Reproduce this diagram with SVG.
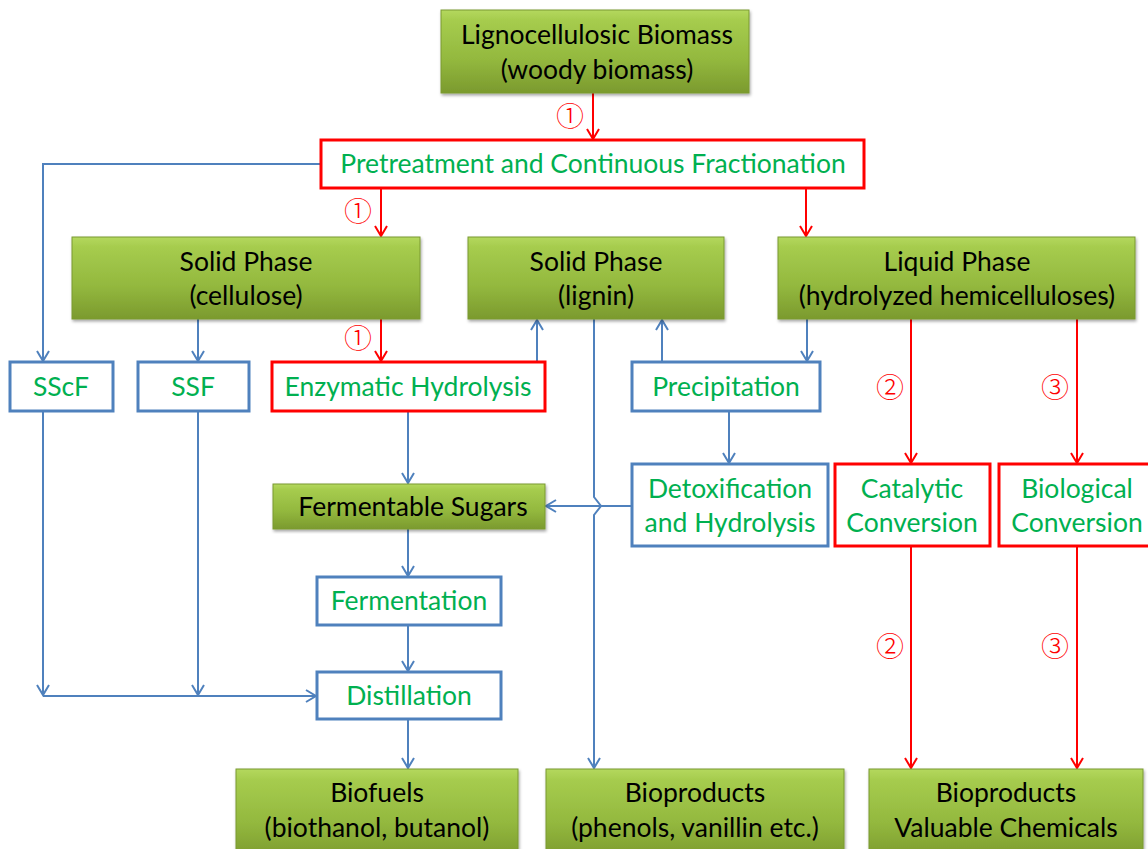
<svg xmlns="http://www.w3.org/2000/svg" width="1148" height="849" viewBox="0 0 1148 849">
<defs>
<linearGradient id="gg" x1="0" y1="0" x2="0" y2="1">
<stop offset="0" stop-color="#b4d85e"/>
<stop offset="0.12" stop-color="#a6cc4e"/>
<stop offset="0.6" stop-color="#93b83e"/>
<stop offset="1" stop-color="#7b9a2e"/>
</linearGradient>
<filter id="sh" x="-5%" y="-5%" width="110%" height="115%">
<feDropShadow dx="1" dy="2" stdDeviation="1.5" flood-color="#000" flood-opacity="0.35"/>
</filter>
<marker id="ab" markerWidth="16" markerHeight="16" refX="14" refY="8" viewBox="0 0 16 16" orient="auto-start-reverse" markerUnits="userSpaceOnUse">
<path d="M4,2 L14,8 L4,14" fill="none" stroke="#4f81bd" stroke-width="2"/>
</marker>
<marker id="ar" markerWidth="16" markerHeight="16" refX="14" refY="8" viewBox="0 0 16 16" orient="auto-start-reverse" markerUnits="userSpaceOnUse">
<path d="M4,2 L14,8 L4,14" fill="none" stroke="#ff0000" stroke-width="2"/>
</marker>
</defs>
<style>
.g{fill:url(#gg);stroke:#7a9a30;stroke-width:1;filter:url(#sh)}
.bb{fill:#fff;stroke:#4f81bd;stroke-width:3}
.rb{fill:#fff;stroke:#ff0000;stroke-width:3}
.tk{font-family:Lato,"Liberation Sans",sans-serif;font-size:26.5px;fill:#000;text-anchor:middle}
.tg{font-family:Lato,"Liberation Sans",sans-serif;font-size:26.5px;fill:#00b050;text-anchor:middle}
.bl{fill:none;stroke:#4f81bd;stroke-width:2}
.rl{fill:none;stroke:#ff0000;stroke-width:2}
.num{font-family:"Noto Sans CJK SC","DejaVu Sans",sans-serif;font-size:28px;font-weight:300;fill:#ff0000;text-anchor:middle}
</style>
<rect width="1148" height="849" fill="#fff"/>

<g id="connectors">
<path class="rl" d="M593,93 V139" marker-end="url(#ar)"/>
<path class="bl" d="M321,164 H43 V361" marker-end="url(#ab)"/>
<path class="rl" d="M381,188 V236" marker-end="url(#ar)"/>
<path class="rl" d="M806,188 V236" marker-end="url(#ar)"/>
<path class="bl" d="M198,319 V361" marker-end="url(#ab)"/>
<path class="rl" d="M381,319 V361" marker-end="url(#ar)"/>
<path class="bl" d="M537,362 V320" marker-end="url(#ab)"/>
<path class="bl" d="M662,362 V320" marker-end="url(#ab)"/>
<path class="bl" d="M807,319 V361" marker-end="url(#ab)"/>
<path class="bl" d="M729,411 V463" marker-end="url(#ab)"/>
<path class="bl" d="M594,319 V497 L601,506 L594,515 V768" marker-end="url(#ab)"/>
<path class="bl" d="M632,506 H546" marker-end="url(#ab)"/>
<path class="bl" d="M408,411 V483" marker-end="url(#ab)"/>
<path class="bl" d="M408,529 V576" marker-end="url(#ab)"/>
<path class="bl" d="M408,625 V671" marker-end="url(#ab)"/>
<path class="bl" d="M43,411 V695" marker-end="url(#ab)"/>
<path class="bl" d="M198,411 V695" marker-end="url(#ab)"/>
<path class="bl" d="M43,696 H316" marker-end="url(#ab)"/>
<path class="bl" d="M408,719 V768" marker-end="url(#ab)"/>
<path class="rl" d="M911,319 V463" marker-end="url(#ar)"/>
<path class="rl" d="M1077,319 V463" marker-end="url(#ar)"/>
<path class="rl" d="M911,547 V768" marker-end="url(#ar)"/>
<path class="rl" d="M1077,547 V768" marker-end="url(#ar)"/>
<text class="num" x="570" y="127">①</text>
<text class="num" x="358" y="222">①</text>
<text class="num" x="358" y="349">①</text>
<text class="num" x="890" y="398">②</text>
<text class="num" x="1055" y="398">③</text>
<text class="num" x="890" y="657">②</text>
<text class="num" x="1055" y="657">③</text>
</g>

<g id="biomass">
<rect class="g" x="441" y="10" width="308" height="83"/>
<text class="tk" x="597" y="44">Lignocellulosic Biomass</text>
<text class="tk" x="597" y="79">(woody biomass)</text>
</g>
<g id="pretreatment">
<rect class="rb" x="321" y="140" width="543" height="48"/>
<text class="tg" x="593" y="173">Pretreatment and Continuous Fractionation</text>
</g>
<g id="cellulose">
<rect class="g" x="72" y="237" width="348" height="82"/>
<text class="tk" x="246" y="271">Solid Phase</text>
<text class="tk" x="246" y="305">(cellulose)</text>
</g>
<g id="lignin">
<rect class="g" x="468" y="237" width="256" height="82"/>
<text class="tk" x="596" y="271">Solid Phase</text>
<text class="tk" x="596" y="305">(lignin)</text>
</g>
<g id="liquid">
<rect class="g" x="778" y="237" width="357" height="82"/>
<text class="tk" x="957" y="271">Liquid Phase</text>
<text class="tk" x="957" y="305">(hydrolyzed hemicelluloses)</text>
</g>
<g id="sscf">
<rect class="bb" x="10" y="362" width="103" height="49"/>
<text class="tg" x="61" y="396">SScF</text>
</g>
<g id="ssf">
<rect class="bb" x="138" y="362" width="111" height="49"/>
<text class="tg" x="193" y="396">SSF</text>
</g>
<g id="enzymatic">
<rect class="rb" x="272" y="362" width="273" height="49"/>
<text class="tg" x="408" y="396">Enzymatic Hydrolysis</text>
</g>
<g id="precipitation">
<rect class="bb" x="632" y="362" width="188" height="49"/>
<text class="tg" x="726" y="396">Precipitation</text>
</g>
<g id="sugars">
<rect class="g" x="273" y="484" width="272" height="45"/>
<text class="tk" x="413" y="516">Fermentable Sugars</text>
</g>
<g id="detox">
<rect class="bb" x="632" y="464" width="196" height="82"/>
<text class="tg" x="730" y="498">Detoxification</text>
<text class="tg" x="730" y="532">and Hydrolysis</text>
</g>
<g id="catalytic">
<rect class="rb" x="835" y="464" width="155" height="82"/>
<text class="tg" x="912" y="498">Catalytic</text>
<text class="tg" x="912" y="532">Conversion</text>
</g>
<g id="biological">
<rect class="rb" x="999" y="464" width="160" height="82"/>
<text class="tg" x="1077" y="498">Biological</text>
<text class="tg" x="1077" y="532">Conversion</text>
</g>
<g id="fermentation">
<rect class="bb" x="317" y="577" width="184" height="48"/>
<text class="tg" x="409" y="610">Fermentation</text>
</g>
<g id="distillation">
<rect class="bb" x="317" y="672" width="184" height="47"/>
<text class="tg" x="409" y="705">Distillation</text>
</g>
<g id="biofuels">
<rect class="g" x="236" y="769" width="282" height="90"/>
<text class="tk" x="377" y="802">Biofuels</text>
<text class="tk" x="377" y="837">(biothanol, butanol)</text>
</g>
<g id="bioproducts1">
<rect class="g" x="546" y="769" width="298" height="90"/>
<text class="tk" x="695" y="802">Bioproducts</text>
<text class="tk" x="695" y="837">(phenols, vanillin etc.)</text>
</g>
<g id="bioproducts2">
<rect class="g" x="869" y="769" width="274" height="90"/>
<text class="tk" x="1006" y="802">Bioproducts</text>
<text class="tk" x="1006" y="837">Valuable Chemicals</text>
</g>
</svg>
